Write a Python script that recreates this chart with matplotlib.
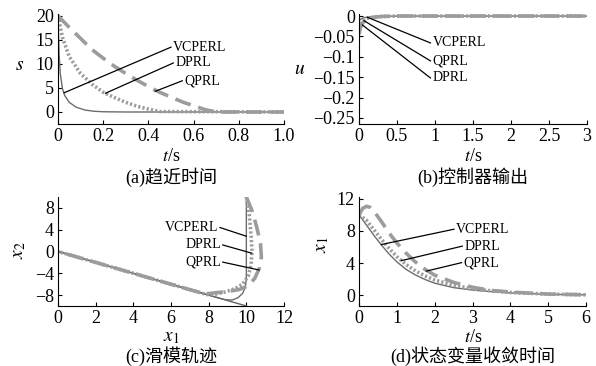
import matplotlib
matplotlib.use("Agg")
import matplotlib.pyplot as plt

plt.rcParams['font.family'] = ['Liberation Serif', 'Noto Sans CJK SC']
plt.rcParams['mathtext.fontset'] = 'stix'
plt.rcParams['font.size'] = 13

# (a) reaching time: s vs t
t_a_vc = [0, 0.005, 0.01, 0.02, 0.03, 0.05, 0.08, 0.12, 0.16, 0.2, 0.3, 1.0]
s_vc = [20, 12, 8, 4.8, 3.4, 2.0, 1.0, 0.4, 0.15, 0.05, 0, 0]
t_a_dp = [0, 0.02, 0.05, 0.1, 0.15, 0.2, 0.25, 0.3, 0.35, 0.4, 0.45, 1.0]
s_dp = [20, 15.5, 11.5, 8, 5.8, 4.1, 3, 2, 1.2, 0.6, 0.1, 0]
t_a_qp = [0, 0.05, 0.1, 0.15, 0.2, 0.25, 0.3, 0.35, 0.4, 0.45, 0.5, 0.55, 0.6, 0.65, 0.7, 1.0]
s_qp = [20, 17.6, 15.3, 13, 11.2, 9.5, 8, 6.6, 5.3, 4.1, 3.1, 2.1, 1.3, 0.5, 0, 0]

# (b) controller output: u vs t
t_b = [0, 0.02, 0.05, 0.1, 0.2, 0.3, 0.5, 1.0, 3.0]
u_vc = [-0.012, -0.008, -0.005, -0.003, -0.001, -0.0005, 0, 0, 0]
u_dp = [-0.03, -0.02, -0.012, -0.006, -0.002, -0.001, 0, 0, 0]
u_qp = [-0.045, -0.028, -0.016, -0.008, -0.003, -0.001, 0, 0, 0]

# (c) sliding mode trajectory: x2 vs x1
surf_x1 = [0, 10]
surf_x2 = [0, -10]
x1_vc = [10, 10, 10, 10, 10, 9.95, 9.8, 9.55, 9.25, 8.9, 8.6, 8.0, 4, 0]
x2_vc = [10, 6, 2, -2, -5, -6.5, -7.7, -8.5, -8.9, -8.85, -8.6, -8.0, -4, 0]
x1_dp = [10, 10.15, 10.25, 10.3, 10.25, 10.1, 9.8, 9.4, 8.9, 8.4, 7.9, 4, 0]
x2_dp = [10, 7, 3, 0, -2.5, -4.5, -6, -6.8, -7.4, -7.8, -7.9, -4, 0]
x1_qp = [10, 10.3, 10.55, 10.75, 10.8, 10.7, 10.45, 10.1, 9.6, 9.0, 8.4, 7.8, 4, 0]
x2_qp = [10, 7.5, 4.5, 1.5, -1, -3, -4.9, -6.3, -7.0, -7.35, -7.55, -7.8, -4, 0]

# (d) state convergence: x1 vs t
t_d = [0, 0.2, 0.4, 0.6, 0.8, 1.0, 1.25, 1.5, 1.75, 2.0, 2.5, 3.0, 3.5, 4.0, 5.0, 6.0]
xd_vc = [10, 8.7, 7.4, 6.2, 5.1, 4.15, 3.2, 2.5, 1.95, 1.5, 0.95, 0.65, 0.45, 0.3, 0.12, 0.05]
xd_dp = [10, 9.3, 8.1, 6.9, 5.8, 4.8, 3.8, 3.0, 2.4, 1.9, 1.25, 0.8, 0.55, 0.35, 0.15, 0.06]
t_d_qp = [0, 0.1, 0.2, 0.3, 0.4, 0.6, 0.8, 1.0, 1.25, 1.5, 1.75, 2.0, 2.5, 3.0, 3.5, 4.0, 5.0, 6.0]
xd_qp = [10, 10.8, 11.05, 10.9, 10.4, 9.1, 7.7, 6.5, 5.2, 4.1, 3.2, 2.5, 1.6, 1.0, 0.6, 0.4, 0.15, 0.06]

names = ['VCPERL', 'DPRL', 'QPRL']

sty_vc = dict(color='#6c6c6c', lw=1.0)
sty_dp = dict(color='#9c9c9c', lw=2.6, linestyle=(0, (0.6, 0.6)))
sty_qp = dict(color='#9c9c9c', lw=2.6, linestyle=(0, (4.5, 2.2)))

W, H = 596, 366
fig = plt.figure(figsize=(W / 100, H / 100), dpi=100)


def px_axes(l, t, r, b):
    return fig.add_axes([l / W, 1 - b / H, (r - l) / W, (b - t) / H])


def style(ax):
    ax.spines['top'].set_visible(False)
    ax.spines['right'].set_visible(False)
    ax.tick_params(direction='in', length=3, width=0.8, pad=3, labelsize=13)


def ftext(x, y, s, **kw):
    fig.text(x / W, 1 - y / H, s, ha='center', va='center', **kw)


def labels(ax, starts, ends, order, side='left'):
    off = 1.5 if side == 'left' else -1.5
    for (sx, sy), (ex, ey), name in zip(starts, ends, order):
        ax.plot([sx, ex], [sy, ey], color='k', lw=0.9)
        ax.annotate(name, (ex, ey), xytext=(off, 0), textcoords='offset points',
                    ha=side, va='center', fontsize=10)


# (a)
ax = px_axes(58, 14, 284, 124)
ax.plot(t_a_vc, s_vc, **sty_vc)
ax.plot(t_a_dp, s_dp, **sty_dp)
ax.plot(t_a_qp, s_qp, **sty_qp)
ax.set_xlim(0, 1.0)
ax.set_ylim(-2.5, 20.4)
ax.set_xticks([0, 0.2, 0.4, 0.6, 0.8, 1.0], ['0', '0.2', '0.4', '0.6', '0.8', '1.0'])
ax.set_yticks([0, 5, 10, 15, 20])
style(ax)
labels(ax, [(0.027, 4.0), (0.21, 3.9), (0.43, 4.3)],
       [(0.50, 13.5), (0.51, 10.2), (0.55, 6.5)], names)
ftext(171, 157, '$t$/s', fontsize=13)
ftext(171, 177, '(a)趋近时间', fontsize=13)
ftext(20, 65, '$s$', fontsize=14)

# (b)
ax = px_axes(359, 14, 587, 124)
ax.plot(t_b, u_vc, **sty_vc)
ax.plot(t_b, u_dp, **sty_dp)
ax.plot(t_b, u_qp, **sty_qp)
ax.set_xlim(0, 3)
ax.set_ylim(-0.265, 0.005)
ax.set_xticks([0, 0.5, 1, 1.5, 2, 2.5, 3], ['0', '0.5', '1', '1.5', '2', '2.5', '3'])
ax.set_yticks([0, -0.05, -0.1, -0.15, -0.2, -0.25],
              ['0', '\u22120.05', '\u22120.1', '\u22120.15', '\u22120.2', '\u22120.25'])
style(ax)
labels(ax, [(0.11, -0.003), (0.066, -0.0115), (0.045, -0.022)],
       [(0.94, -0.066), (0.94, -0.110), (0.94, -0.152)], ['VCPERL', 'QPRL', 'DPRL'])
ftext(473, 157, '$t$/s', fontsize=13)
ftext(473, 177, '(b)控制器输出', fontsize=13)
ftext(300, 70, '$u$', fontsize=14)

# (c)
ax = px_axes(58, 197, 284, 306)
ax.plot(surf_x1, surf_x2, color='#606060', lw=1.0)
ax.plot(x1_vc, x2_vc, **sty_vc)
ax.plot(x1_dp, x2_dp, **sty_dp)
ax.plot(x1_qp, x2_qp, **sty_qp)
ax.set_xlim(0, 12)
ax.set_ylim(-10, 10)
ax.set_xticks([0, 2, 4, 6, 8, 10, 12])
ax.set_yticks([-8, -4, 0, 4, 8], ['\u22128', '\u22124', '0', '4', '8'])
style(ax)
labels(ax, [(10.0, 2.8), (10.28, -0.3), (10.68, -3.4)],
       [(8.6, 4.4), (8.75, 1.2), (8.75, -1.95)], names, side='right')
ftext(171, 337, '$x_1$', fontsize=14)
ftext(171, 356, '(c)滑模轨迹', fontsize=13)
ftext(20, 250, '$x_2$', fontsize=14, rotation=90)

# (d)
ax = px_axes(359, 197, 586, 306)
ax.plot(t_d, xd_vc, **sty_vc)
ax.plot(t_d, xd_dp, **sty_dp)
ax.plot(t_d_qp, xd_qp, **sty_qp)
ax.set_xlim(0, 6)
ax.set_ylim(-1.33, 12.2)
ax.set_xticks([0, 1, 2, 3, 4, 5, 6])
ax.set_yticks([0, 4, 8, 12])
style(ax)
labels(ax, [(0.59, 6.3), (1.12, 4.3), (1.78, 3.0)],
       [(2.51, 8.2), (2.73, 6.1), (2.71, 4.05)], names)
ftext(473, 337, '$t$/s', fontsize=13)
ftext(473, 356, '(d)状态变量收敛时间', fontsize=13)
ftext(322, 245, '$x_1$', fontsize=14, rotation=90)

fig.savefig('out.png', dpi=100)
